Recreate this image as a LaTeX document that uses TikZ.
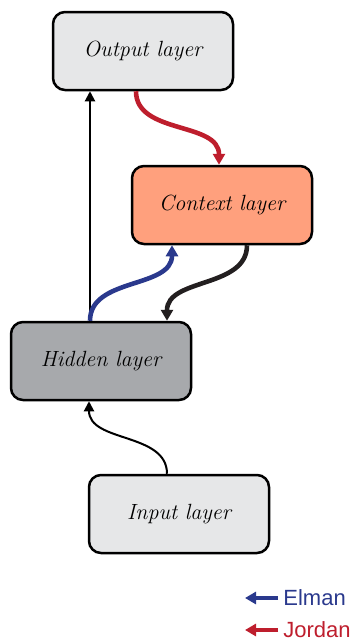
\documentclass[tikz,border=0pt]{standalone}
\usepackage{fontspec}
\newfontfamily\legendfont{Liberation Sans}
\usetikzlibrary{arrows.meta, positioning, calc}

\definecolor{lightgrey}{RGB}{230,231,232}
\definecolor{midgrey}{RGB}{167,169,172}
\definecolor{salmon}{RGB}{255,160,125}
\definecolor{elmanblue}{RGB}{42,57,141}
\definecolor{jordanred}{RGB}{190,30,45}
\definecolor{darkink}{RGB}{35,31,32}

\begin{document}
\begin{tikzpicture}[
    x=0.5pt, y=-0.5pt,
    layerbox/.style={draw, line width=1.25pt, rounded corners=6pt, minimum width=90pt,
      minimum height=39pt, align=center, font=\fontsize{11}{13}\selectfont\itshape},
    arr/.style={-{Triangle[length=5pt, width=5pt]}, line width=1pt},
    fat/.style={-{Triangle[length=5.5pt, width=6pt]}, line width=2.3pt},
    legend/.style={font=\fontsize{11}{13}\selectfont\legendfont, anchor=west, inner sep=0pt}
  ]

    %% ── canvas ──
    \useasboundingbox (0,0) rectangle (349,643);

    %% ── layers ──
    \node[layerbox, fill=lightgrey] (output)  at (143, 51)  {Output layer};
    \node[layerbox, fill=salmon]    (context) at (222, 205) {Context layer};
    \node[layerbox, fill=midgrey]   (hidden)  at (101, 361) {Hidden layer};
    \node[layerbox, fill=lightgrey] (input)   at (179, 514) {Input layer};

    %% ── feed-forward path ──
    \draw[arr] ([xshift=-6pt]input.north) to[out=90, in=-90] ([xshift=-6pt]hidden.south);
    \draw[arr] ([xshift=-5.5pt]hidden.north) -- ([xshift=-5.5pt]hidden.north |- output.south);

    %% ── recurrent links ──
    \draw[fat, jordanred] ([xshift=-3.5pt]output.south) to[out=-90, in=90] ([xshift=-1.5pt]context.north);
    \draw[fat, elmanblue] ([xshift=-5.5pt]hidden.north) to[out=90, in=-90] ([xshift=-25pt]context.south);
    \draw[fat, darkink] ([xshift=12.5pt]context.south) to[out=-90, in=90] ([xshift=33pt]hidden.north);

    %% ── legend ──
    \node[legend, text=elmanblue] (elman)  at (283, 598) {Elman};
    \node[legend, text=jordanred] (jordan) at (283, 630) {Jordan};
    \coordinate (elmantip)  at (245, 598);
    \coordinate (jordantip) at (245, 630);
    \draw[fat, elmanblue] ([xshift=-2.5pt]elman.west) -- (elmantip);
    \draw[fat, jordanred] ([xshift=-2.5pt]jordan.west) -- (jordantip);

\end{tikzpicture}
\end{document}
